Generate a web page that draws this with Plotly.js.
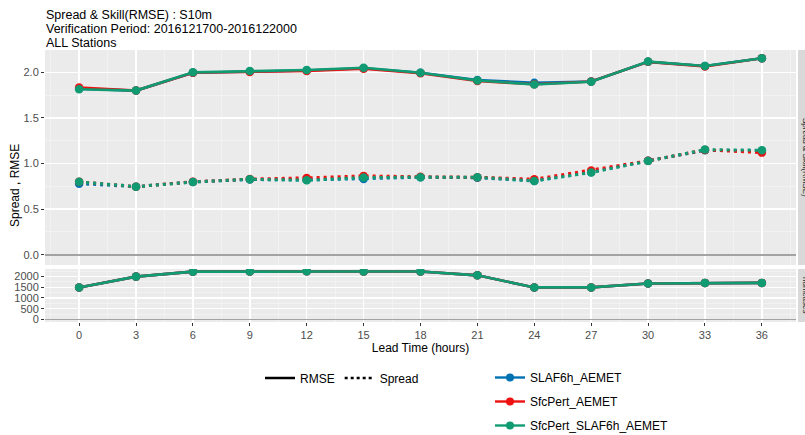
<!DOCTYPE html>
<html>
<head>
<meta charset="utf-8">
<script src="https://cdn.plot.ly/plotly-3.0.1.min.js"></script>
<style>html,body{margin:0;padding:0;background:#fff;}#chart{width:805px;height:435px;}</style>
</head>
<body>
<div id="chart"></div>
<script>
const leadTime = [0, 3, 6, 9, 12, 15, 18, 21, 24, 27, 30, 33, 36];
const models = ["SLAF6h_AEMET", "SfcPert_AEMET", "SfcPert_SLAF6h_AEMET"];
const modelColors = ["#0072B2", "#EE1111", "#109B72"];
const rmse_SLAF6h = [1.820, 1.800, 1.995, 2.010, 2.020, 2.045, 1.995, 1.915, 1.885, 1.900, 2.115, 2.070, 2.155];
const rmse_SfcPert = [1.834, 1.800, 1.995, 2.005, 2.015, 2.040, 1.990, 1.905, 1.870, 1.900, 2.115, 2.065, 2.155];
const rmse_SfcPertSLAF6h = [1.815, 1.800, 2.000, 2.014, 2.025, 2.050, 1.996, 1.910, 1.867, 1.896, 2.118, 2.070, 2.155];
const spread_SLAF6h = [0.780, 0.747, 0.798, 0.825, 0.820, 0.831, 0.850, 0.845, 0.810, 0.905, 1.030, 1.145, 1.140];
const spread_SfcPert = [0.800, 0.747, 0.800, 0.830, 0.843, 0.865, 0.855, 0.850, 0.828, 0.925, 1.030, 1.150, 1.120];
const spread_SfcPertSLAF6h = [0.800, 0.747, 0.798, 0.828, 0.817, 0.847, 0.850, 0.850, 0.810, 0.902, 1.028, 1.153, 1.146];
const numcases = [1490, 1990, 2220, 2230, 2235, 2225, 2225, 2050, 1490, 1490, 1670, 1700, 1700];
const titleLines = ["Spread & Skill(RMSE) : S10m", "Verification Period: 2016121700-2016122000", "ALL Stations"];
const stripTop = "Spread & Skill(RMSE)";
const stripBottom = "numcases";

const rmseSeries = [rmse_SLAF6h, rmse_SfcPert, rmse_SfcPertSLAF6h];
const spreadSeries = [spread_SLAF6h, spread_SfcPert, spread_SfcPertSLAF6h];
const numSeries = [numcases, numcases, numcases];

const traces = [];
const LW = 2.6, MS = 8.5;
models.forEach((m, i) => {
  traces.push({x: leadTime, y: rmseSeries[i], xaxis: 'x2', yaxis: 'y2', mode: 'lines+markers', showlegend: false,
    line: {color: modelColors[i], width: LW}, marker: {color: modelColors[i], size: MS}, hoverinfo: 'skip'});
  traces.push({x: leadTime, y: spreadSeries[i], xaxis: 'x2', yaxis: 'y2', mode: 'lines+markers', showlegend: false,
    line: {color: modelColors[i], width: 3, dash: '3px,4px'}, marker: {color: modelColors[i], size: MS}, hoverinfo: 'skip'});
  traces.push({x: leadTime, y: numSeries[i], xaxis: 'x', yaxis: 'y', mode: 'lines+markers', showlegend: false,
    line: {color: modelColors[i], width: LW}, marker: {color: modelColors[i], size: MS}, hoverinfo: 'skip'});
});
// legend dummies: line types
traces.push({x: [null], y: [null], xaxis: 'x2', yaxis: 'y2', mode: 'lines', name: 'RMSE', legend: 'legend',
  line: {color: '#000', width: 2.4}});
traces.push({x: [null], y: [null], xaxis: 'x2', yaxis: 'y2', mode: 'lines', name: 'Spread', legend: 'legend',
  line: {color: '#000', width: 2.4, dash: '3px,3px'}});
models.forEach((m, i) => {
  traces.push({x: [null], y: [null], xaxis: 'x2', yaxis: 'y2', mode: 'lines+markers', name: m, legend: 'legend2',
    legendgroup: 'g' + i, line: {color: modelColors[i], width: 2.4}, marker: {color: modelColors[i], size: 8}});
});

const PL = 45, PR = 796, PT = 50, PB = 322;
const W = PR - PL, H = PB - PT;
const px = v => (v - PL) / W;
const py = v => (PB - v) / H;

const gridCommon = {gridcolor: '#FFFFFF', gridwidth: 1.4, showline: false, ticks: 'outside', ticklen: 3,
  tickcolor: '#333333', tickwidth: 1, tickfont: {family: 'Liberation Sans, Arial, sans-serif', size: 11, color: '#4D4D4D'}};

const FONT = 'Liberation Sans, Arial, sans-serif';
const titleAnn = titleLines.map((t, i) => ({text: t, xref: 'paper', yref: 'paper', x: px(44), y: py(15 + 14 * i),
  xanchor: 'left', yanchor: 'middle', align: 'left', showarrow: false, font: {size: 12.5, color: '#000'}}));

const layout = {
  width: 805, height: 435,
  margin: {l: PL, r: 805 - PR, t: PT, b: 435 - PB, autoexpand: false},
  paper_bgcolor: '#FFFFFF', plot_bgcolor: '#EBEBEB',
  font: {family: FONT, color: '#000'},
  xaxis: Object.assign({}, gridCommon, {anchor: 'y', domain: [0, 1], range: [-1.8, 37.8], tickvals: leadTime,
    ticktext: leadTime.map(String), zeroline: false,
    minor: {dtick: 1.5, tick0: 0, showgrid: true, gridcolor: '#F5F5F5', gridwidth: 0.7},
    title: {text: 'Lead Time (hours)', font: {size: 12, color: '#000'}, standoff: 0}}),
  xaxis2: Object.assign({}, gridCommon, {anchor: 'y2', domain: [0, 1], range: [-1.8, 37.8], tickvals: leadTime,
    showticklabels: false, ticks: '', zeroline: false, matches: 'x',
    minor: {dtick: 1.5, tick0: 0, showgrid: true, gridcolor: '#F5F5F5', gridwidth: 0.7}}),
  yaxis: Object.assign({}, gridCommon, {anchor: 'x', domain: [0, py(269)], range: [-112, 2343],
    tickvals: [0, 500, 1000, 1500, 2000], zeroline: true, zerolinecolor: '#A3A3A3', zerolinewidth: 1.6,
    tickfont: {family: FONT, size: 11, color: '#4D4D4D'},
    minor: {dtick: 250, tick0: 0, showgrid: true, gridcolor: '#F5F5F5', gridwidth: 0.7}}),
  yaxis2: Object.assign({}, gridCommon, {anchor: 'x2', domain: [py(265), 1], range: [-0.112, 2.245],
    tickvals: [0, 0.5, 1, 1.5, 2], ticktext: ['0.0', '0.5', '1.0', '1.5', '2.0'],
    zeroline: true, zerolinecolor: '#A3A3A3', zerolinewidth: 1.8,
    minor: {dtick: 0.25, tick0: 0, showgrid: true, gridcolor: '#F5F5F5', gridwidth: 0.7}}),
  legend: {orientation: 'h', x: px(260), xanchor: 'left', y: py(378), yanchor: 'middle',
    font: {size: 12, color: '#000'}, bgcolor: 'rgba(0,0,0,0)', itemwidth: 30},
  legend2: {orientation: 'v', x: px(490), xanchor: 'left', y: py(363), yanchor: 'top',
    font: {size: 12, color: '#000'}, bgcolor: 'rgba(0,0,0,0)', itemwidth: 30, traceorder: 'grouped', tracegroupgap: 5},
  shapes: [
    {type: 'rect', xref: 'paper', yref: 'paper', x0: px(798), x1: px(830), y0: py(265), y1: 1, fillcolor: '#D9D9D9', line: {width: 0}, layer: 'below'},
    {type: 'rect', xref: 'paper', yref: 'paper', x0: px(798), x1: px(830), y0: 0, y1: py(269), fillcolor: '#D9D9D9', line: {width: 0}, layer: 'below'}
  ],
  annotations: titleAnn.concat([
    {text: 'Spread , RMSE', xref: 'paper', yref: 'paper', x: px(15), y: py(186), xanchor: 'center', yanchor: 'middle',
      textangle: -90, showarrow: false, font: {size: 12, color: '#000'}},
    {text: stripTop, xref: 'paper', yref: 'paper', x: px(806), y: py(157), xanchor: 'center', yanchor: 'middle',
      textangle: 90, showarrow: false, font: {size: 8, color: '#1A1A1A'}},
    {text: stripBottom, xref: 'paper', yref: 'paper', x: px(806), y: py(295), xanchor: 'center', yanchor: 'middle',
      textangle: 90, showarrow: false, font: {size: 8, color: '#1A1A1A'}}
  ])
};

Plotly.newPlot('chart', traces, layout, {staticPlot: true, displayModeBar: false});
</script>
</body>
</html>
